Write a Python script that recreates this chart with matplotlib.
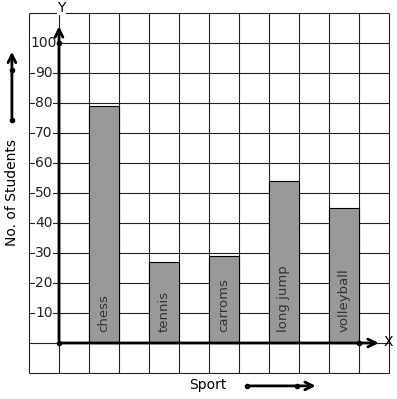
import matplotlib
matplotlib.use("Agg")
import matplotlib.pyplot as plt
import numpy as np

# data
sports = ["chess", "tennis", "carroms", "long jump", "volleyball"]
students = [79, 27, 29, 54, 45]
bar_left = [1, 3, 5, 7, 9]
y_ticks = [10, 20, 30, 40, 50, 60, 70, 80, 90, 100]

fig = plt.figure(figsize=(3.97, 3.99), dpi=100)
ax = fig.add_axes([0, 0, 1, 1])
ax.set_xlim(-59 / 30, 338 / 30)
ax.set_ylim(-56 / 3, 343 / 3)
ax.axis("off")

# graph paper grid
grid_kw = dict(color="#222222", linewidth=0.8, zorder=1)
ax.vlines(np.arange(-1, 12), -10, 110, **grid_kw)
ax.hlines(np.arange(-10, 120, 10), -1, 11, **grid_kw)

# bars
ax.bar(bar_left, students, width=1, align="edge", color="#999999",
       edgecolor="black", linewidth=0.8, zorder=2)
for x, name in zip(bar_left, sports):
    ax.text(x + 0.5, 3.5, name, rotation=90, ha="center", va="bottom",
            fontsize=9.5, color="#333333", zorder=3)

# axes with arrows
ax.annotate("", xy=(0, 106.5), xytext=(0, 0),
            arrowprops=dict(arrowstyle="->", lw=2, color="black",
                            mutation_scale=14), zorder=4)
ax.annotate("", xy=(10.75, 0), xytext=(0, 0),
            arrowprops=dict(arrowstyle="->", lw=2, color="black",
                            mutation_scale=14), zorder=4)
ax.plot([0, 0, 10], [0, 100, 0], "o", color="black", markersize=3, zorder=5)

# tick labels
for v in y_ticks:
    ax.text(-0.5, v, str(v), ha="center", va="center", fontsize=10,
            color="#222222", zorder=3,
            bbox=dict(facecolor="white", edgecolor="none", pad=0.3))

ax.text(0.07, 111.8, "Y", ha="center", va="center", fontsize=10, zorder=3,
        bbox=dict(facecolor="white", edgecolor="none", pad=0.2))
ax.text(10.97, 0.3, "X", ha="center", va="center", fontsize=10, zorder=3)

# axis titles with little arrows
ax.text(-1.57, 50, "No. of Students", rotation=90, ha="center", va="center",
        fontsize=10)
ax.annotate("", xy=(-1.57, 98), xytext=(-1.57, 74.3),
            arrowprops=dict(arrowstyle="->", lw=2, color="black",
                            mutation_scale=14))
ax.plot([-1.57, -1.57], [74.3, 91], "o", color="black", markersize=3)

ax.text(4.97, -14, "Sport", ha="center", va="center", fontsize=10)
ax.annotate("", xy=(8.65, -14.3), xytext=(6.27, -14.3),
            arrowprops=dict(arrowstyle="->", lw=2, color="black",
                            mutation_scale=14))
ax.plot([6.27, 7.93], [-14.3, -14.3], "o", color="black", markersize=3)

fig.savefig("out.png", dpi=100)
